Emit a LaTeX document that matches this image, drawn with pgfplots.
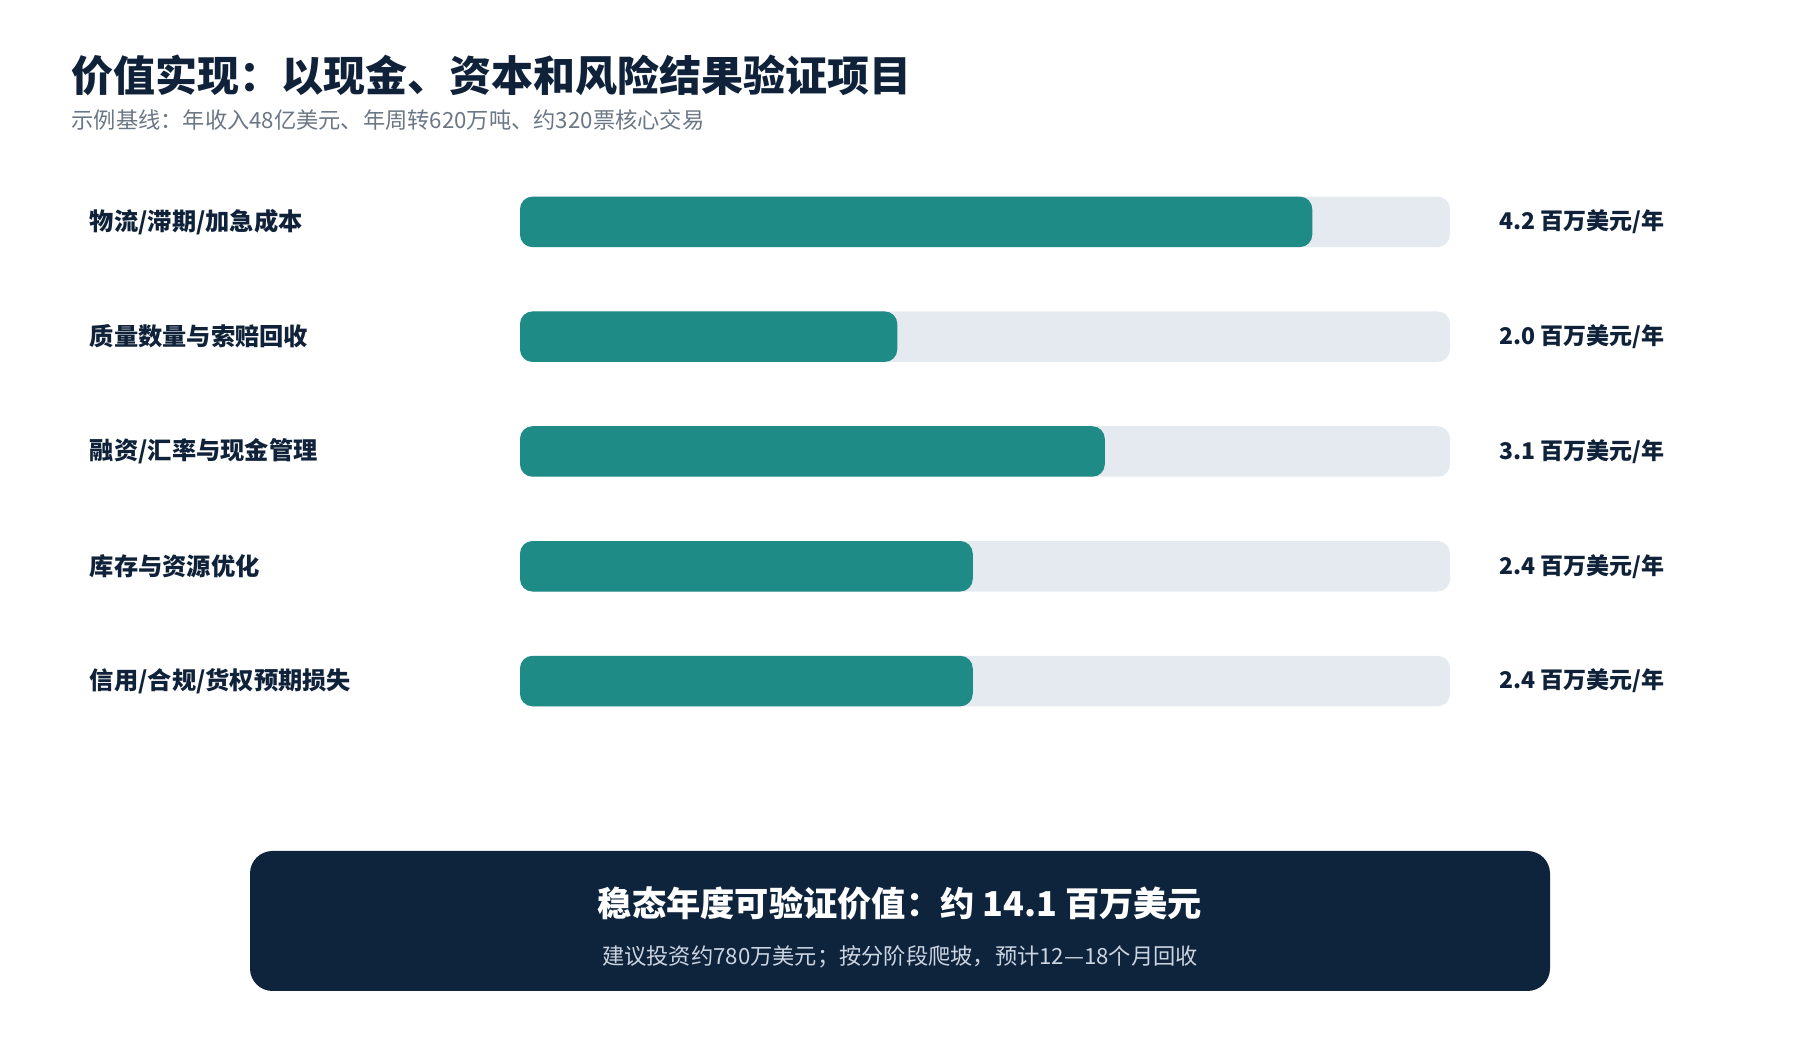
\documentclass[border=0pt]{standalone}
\usepackage{pgfplots}
\pgfplotsset{compat=1.18}
\usepackage{fontspec}
\setmainfont{Noto Sans CJK SC}
\definecolor{teal1}{HTML}{1E8B87}
\definecolor{track}{HTML}{E5EAF0}
\definecolor{navy}{HTML}{0F2239}
\definecolor{boxnavy}{HTML}{0E233C}
\definecolor{subgray}{HTML}{6B7785}
\definecolor{boxsub}{HTML}{CBD5E1}
\tikzset{
  lab/.style={anchor=west,inner sep=0pt,text=navy,font=\fontsize{9.7pt}{12pt}\selectfont\bfseries,xshift=-172.2pt},
  val/.style={anchor=west,inner sep=0pt,text=navy,font=\fontsize{9.2pt}{12pt}\selectfont\bfseries,xshift=19.6pt},
}
\begin{document}
\begin{tikzpicture}[x=0.4pt,y=0.4pt]
\fill[white] (0,0) rectangle (1800,1050);
% title
\node[anchor=west,inner sep=0pt,text=navy,font=\fontsize{16.8pt}{20pt}\selectfont\bfseries] at (71,974.2) {价值实现：以现金、资本和风险结果验证项目};
\node[anchor=west,inner sep=0pt,text=subgray,font=\fontsize{8.9pt}{11pt}\selectfont] at (71,929.6) {示例基线：年收入48亿美元、年周转620万吨、约320票核心交易};
\begin{axis}[
  at={(208pt,124.6pt)}, anchor=south west,
  scale only axis, width=372pt, height=229.6pt,
  xmin=0, xmax=4.93, ymin=-0.5, ymax=4.5, y dir=reverse,
  hide axis, clip=false,
  xbar, bar width=20.2pt, bar shift=0pt,
]
\addplot[fill=track, draw=none, rounded corners=5pt] coordinates {(4.93,0) (4.93,1) (4.93,2) (4.93,3) (4.93,4)};
\addplot[fill=teal1, draw=none, rounded corners=5pt] coordinates {(4.2,0) (2.0,1) (3.1,2) (2.4,3) (2.4,4)};
\node[lab] at (axis cs:0,0) {物流/滞期/加急成本};
\node[lab] at (axis cs:0,1) {质量数量与索赔回收};
\node[lab] at (axis cs:0,2) {融资/汇率与现金管理};
\node[lab] at (axis cs:0,3) {库存与资源优化};
\node[lab] at (axis cs:0,4) {信用/合规/货权预期损失};
\node[val] at (axis cs:4.93,0) {4.2 百万美元/年};
\node[val] at (axis cs:4.93,1) {2.0 百万美元/年};
\node[val] at (axis cs:4.93,2) {3.1 百万美元/年};
\node[val] at (axis cs:4.93,3) {2.4 百万美元/年};
\node[val] at (axis cs:4.93,4) {2.4 百万美元/年};
\end{axis}
\fill[boxnavy, rounded corners=9pt] (250,59) rectangle (1550,199);
\node[inner sep=0pt,text=white,font=\fontsize{13.7pt}{16pt}\selectfont\bfseries] at (900,147) {稳态年度可验证价值：约 14.1 百万美元};
\node[inner sep=0pt,text=boxsub,font=\fontsize{8.9pt}{11pt}\selectfont] at (900,93) {建议投资约780万美元；按分阶段爬坡，预计12—18个月回收};
\end{tikzpicture}
\end{document}
